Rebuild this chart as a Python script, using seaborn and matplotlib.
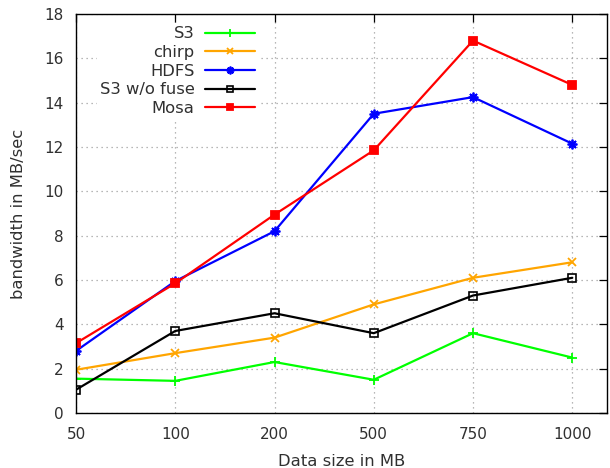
import matplotlib
matplotlib.use("Agg")
import matplotlib.pyplot as plt
import seaborn as sns
import pandas as pd

sizes = ["50", "100", "200", "500", "750", "1000"]
s3 = [1.55, 1.45, 2.3, 1.5, 3.6, 2.5]
chirp = [1.95, 2.7, 3.4, 4.9, 6.1, 6.8]
hdfs = [2.8, 5.95, 8.2, 13.5, 14.25, 12.15]
s3_nofuse = [1.05, 3.7, 4.5, 3.6, 5.3, 6.1]
mosa = [3.15, 5.85, 8.95, 11.85, 16.8, 14.8]
yticks = [0, 2, 4, 6, 8, 10, 12, 14, 16, 18]

sns.set_theme(style="white")
plt.rcParams["font.family"] = ["DejaVu Sans"]
fs_tick = 11
fs = 11.8

fig = plt.figure(figsize=(6.10, 4.68), dpi=100)
ax = fig.add_axes([76/610, 1-413/468, (607-76)/610, (413-14)/468])

series = [
    ("S3", s3, "#00ff00", "+", {"markersize": 7}),
    ("chirp", chirp, "#ffa500", "x", {"markersize": 6}),
    ("HDFS", hdfs, "#0000ff", (8, 2, 0), {"markersize": 7}),
    ("S3 w/o fuse", s3_nofuse, "#000000", "s", {"markerfacecolor": "none", "markeredgewidth": 1.2, "markersize": 5.5}),
    ("Mosa", mosa, "#ff0000", "s", {"markersize": 6.2}),
]
for name, vals, color, marker, kw in series:
    df = pd.DataFrame({"size": sizes, "bw": vals})
    opts = dict(markersize=7, markeredgewidth=1.3, markeredgecolor=color)
    opts.update(kw)
    sns.lineplot(data=df, x="size", y="bw", color=color, marker=marker,
                 linewidth=1.6, label=name, ax=ax, sort=False, **opts)

ax.set_xlim(0, 5.35)
ax.set_ylim(0, 18)
ax.set_yticks(yticks)
ax.set_xticks(range(len(sizes)))
ax.set_xticklabels(sizes)
ax.grid(True, linestyle=(0, (1, 3)), color="#a0a0a0", linewidth=0.9)
ax.tick_params(direction="in", length=6, width=0.9, top=True, right=True,
               labelsize=fs_tick, colors="#000000", labelcolor="#303030")
ax.tick_params(axis="x", pad=10)
ax.tick_params(axis="y", pad=9)
for sp in ax.spines.values():
    sp.set_color("#000000")
    sp.set_linewidth(1.0)
ax.set_xlabel("Data size in MB", fontsize=fs, color="#303030", labelpad=9)
ax.set_ylabel("bandwidth in MB/sec", fontsize=fs, color="#303030", labelpad=13)

leg = ax.legend(loc="upper right", bbox_to_anchor=(266/610, 1-15/468),
                bbox_transform=fig.transFigure, markerfirst=False,
                fontsize=fs, handlelength=3.05, labelspacing=0.22,
                handletextpad=0.6, frameon=True, borderpad=0.2,
                markerscale=0.8)
leg.get_frame().set_facecolor("white")
leg.get_frame().set_edgecolor("none")
leg.get_frame().set_alpha(1)
for t in leg.get_texts():
    t.set_ha("right")
    t.set_color("#303030")
leg._legend_box.align = "right"

fig.savefig("out.png", dpi=100)
